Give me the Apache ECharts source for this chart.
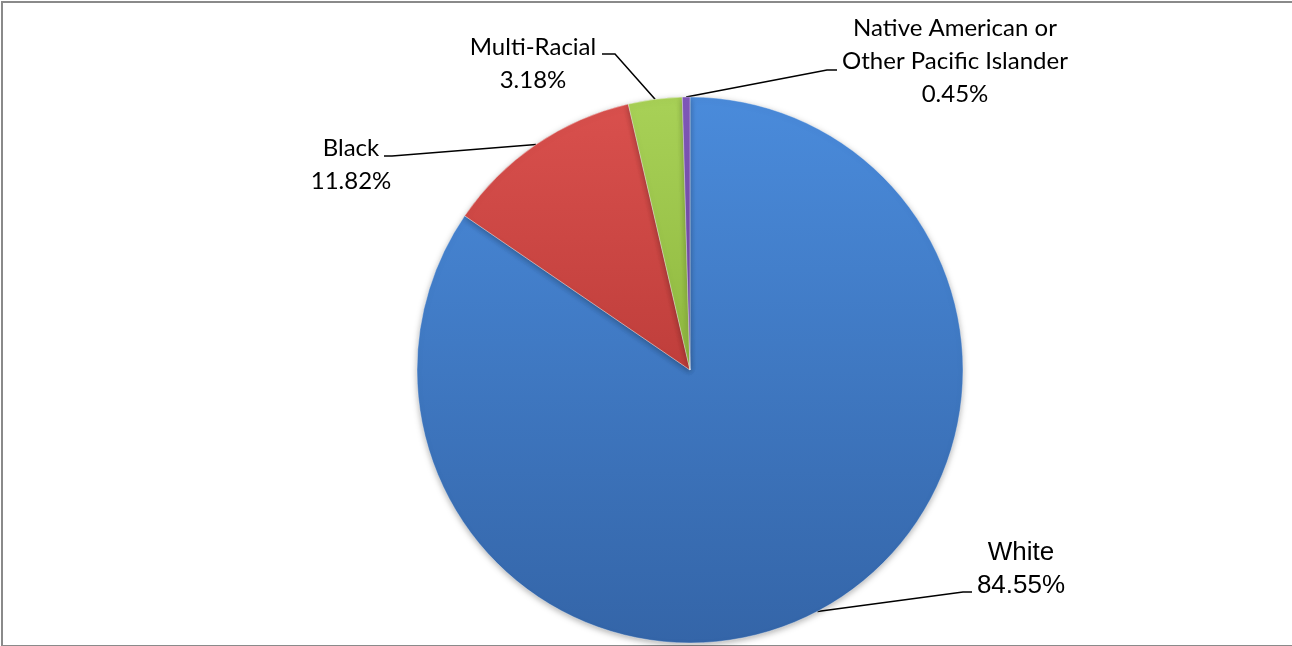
<!DOCTYPE html>
<html>
<head>
<meta charset="utf-8">
<script src="https://cdn.jsdelivr.net/npm/echarts@6/dist/echarts.min.js"></script>
<style>
    html, body { margin: 0; padding: 0; background: #fff; overflow: hidden; }
    #frame {
        position: absolute; left: 1px; top: 1px; width: 1400px; height: 642px;
        border: 2px solid #8a8a8a; border-right: none;
    }
    #main { position: absolute; left: 0; top: 0; width: 1292px; height: 646px; }
</style>
</head>
<body>
<div id="frame"></div>
<div id="main"></div>
<script>
// chart data
var races = ["White", "Black", "Multi-Racial", "Native American or\nOther Pacific Islander"];
var shares = [84.55, 11.82, 3.18, 0.45];

// look of each slice (top colour, bottom colour)
var sliceTop = ["#4a8bdb", "#d9504d", "#a8d157", "#8058ba"];
var sliceBottom = ["#3465a8", "#bf3e3b", "#8fb83f", "#6a479d"];

// where each label block sits (centre x, centre y) and the elbow of its leader line
var labelSpot = [
    { x: 1021, y: 569, elbow: [963, 592], end: [972, 592], font: "Liberation Sans", size: 26 },
    { x: 351, y: 165, elbow: [392, 156], end: [384, 156], font: "Lato", size: 24 },
    { x: 533, y: 64, elbow: [615, 54], end: [602, 54], font: "Lato", size: 24 },
    { x: 955, y: 61, elbow: [827, 70], end: [837, 70], font: "Lato", size: 24 }
];

var chart = echarts.init(document.getElementById("main"), null, { renderer: "canvas" });

var pieData = [];
for (var i = 0; i < races.length; ++i) {
    pieData.push({
        name: races[i],
        value: shares[i],
        itemStyle: {
            color: new echarts.graphic.LinearGradient(0, 0, 0, 1, [
                { offset: 0, color: sliceTop[i] },
                { offset: 1, color: sliceBottom[i] }
            ])
        },
        label: {
            fontFamily: labelSpot[i].font,
            fontSize: labelSpot[i].size,
            lineHeight: 33
        }
    });
}

var option = {
    animation: false,
    series: [
        {
            type: "pie",
            center: [690, 370],
            radius: 273,
            startAngle: 90,
            clockwise: true,
            avoidLabelOverlap: false,
            itemStyle: {
                borderColor: "rgba(255,255,255,0.35)",
                borderWidth: 1,
                shadowBlur: 6,
                shadowOffsetY: 2,
                shadowColor: "rgba(0,0,0,0.3)"
            },
            label: {
                show: true,
                position: "outside",
                color: "#000",
                align: "center",
                formatter: function (p) {
                    return p.name + "\n" + p.value.toFixed(2) + "%";
                }
            },
            labelLine: {
                show: true,
                length: 20,
                length2: 10,
                smooth: false,
                lineStyle: { color: "#000", width: 1.5 }
            },
            labelLayout: function (params) {
                var s = labelSpot[params.dataIndex];
                var start = params.labelLinePoints ? params.labelLinePoints[0] : [s.elbow[0], s.elbow[1]];
                return {
                    x: s.x,
                    y: s.y,
                    align: "center",
                    verticalAlign: "middle",
                    labelLinePoints: [start, s.elbow, s.end]
                };
            },
            emphasis: { disabled: true },
            data: pieData
        }
    ]
};

chart.setOption(option);
</script>
</body>
</html>
